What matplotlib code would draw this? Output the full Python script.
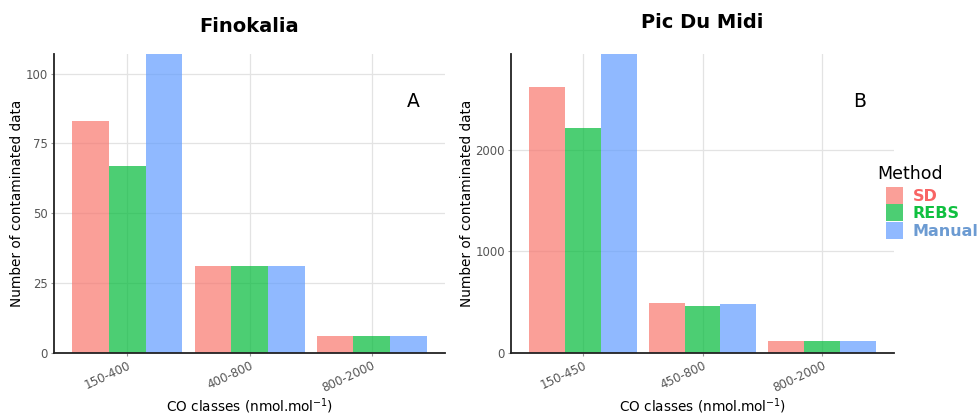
import matplotlib.pyplot as plt
import numpy as np

# Data
methods = ['SD', 'REBS', 'Manual']
fino_classes = ['150-400', '400-800', '800-2000']
fino_sd = [83, 31, 6]
fino_rebs = [67, 31, 6]
fino_manual = [107, 31, 6]

pic_classes = ['150-450', '450-800', '800-2000']
pic_sd = [2620, 487, 122]
pic_rebs = [2215, 465, 122]
pic_manual = [2940, 477, 122]

bar_colors = ['#F8766D', '#00BA38', '#619CFF']
text_colors = ['#F86464', '#10C040', '#6C9BD2']


def draw_panel(ax, classes, series, ymax, yticks, ylab_x):
    x = np.arange(1, len(classes) + 1)
    width = 0.3
    for i, vals in enumerate(series):
        ax.bar(x + (i - 1) * width, vals, width, color=bar_colors[i],
               alpha=0.7, linewidth=0, zorder=2, label=methods[i])
    ax.set_xlim(0.4, 3.6)
    ax.set_ylim(0, ymax)
    ax.set_xticks(x)
    ax.set_xticklabels(classes, rotation=25, ha='right', color='#555555',
                       fontsize=8.6, rotation_mode='anchor')
    ax.set_yticks(yticks)
    ax.tick_params(axis='y', labelsize=8.4, labelcolor='#555555')
    ax.tick_params(length=2.5, width=0.8, color='#999999', pad=2)
    ax.grid(True, color='#e3e3e3', linewidth=0.9, zorder=0)
    ax.set_axisbelow(True)
    for s in ['top', 'right']:
        ax.spines[s].set_visible(False)
    for s in ['left', 'bottom']:
        ax.spines[s].set_color('#222222')
        ax.spines[s].set_linewidth(1.3)
    ax.set_ylabel('Number of contaminated data', fontsize=9.8)
    ax.yaxis.set_label_coords(ylab_x, 0.5)
    ax.set_xlabel('CO classes (nmol.mol$^{-1}$)', fontsize=9.8)
    ax.xaxis.set_label_coords(0.5, -0.145)


fig = plt.figure(figsize=(9.79, 4.18), dpi=100)
ax1 = fig.add_axes([0.0552, 0.1555, 0.3994, 0.7153])
ax2 = fig.add_axes([0.522, 0.1555, 0.3912, 0.7153])

draw_panel(ax1, fino_classes, [fino_sd, fino_rebs, fino_manual], 107,
           [0, 25, 50, 75, 100], -0.078)
draw_panel(ax2, pic_classes, [pic_sd, pic_rebs, pic_manual], 2940,
           [0, 1000, 2000], -0.097)

# titles and panel letters
fig.text(249.5 / 979, 1 - 26 / 418, 'Finokalia', fontsize=14,
         fontweight='bold', ha='center', va='center')
fig.text(702.5 / 979, 1 - 22 / 418, 'Pic Du Midi', fontsize=14,
         fontweight='bold', ha='center', va='center')
ax1.text(0.92, 0.84, 'A', transform=ax1.transAxes, fontsize=13.5,
         ha='center', va='center')
ax2.text(0.91, 0.84, 'B', transform=ax2.transAxes, fontsize=13.5,
         ha='center', va='center')

# legend (title drawn separately so it sits left of the keys)
leg = ax2.legend(loc='upper left', bbox_to_anchor=(881 / 979, 1 - 182 / 418),
                 bbox_transform=fig.transFigure, borderaxespad=0,
                 frameon=True, fancybox=False, edgecolor='white',
                 facecolor='white', framealpha=1, fontsize=11.5,
                 handlelength=1.1, handleheight=1.25,
                 handletextpad=0.6, labelspacing=0.05, borderpad=0.3)
leg.set_zorder(5)
for t, c in zip(leg.get_texts(), text_colors):
    t.set_color(c)
    t.set_fontweight('bold')
fig.text(877 / 979, 1 - 174 / 418, 'Method', fontsize=12.5,
         ha='left', va='center', zorder=6)

fig.savefig('out.png', dpi=100)
